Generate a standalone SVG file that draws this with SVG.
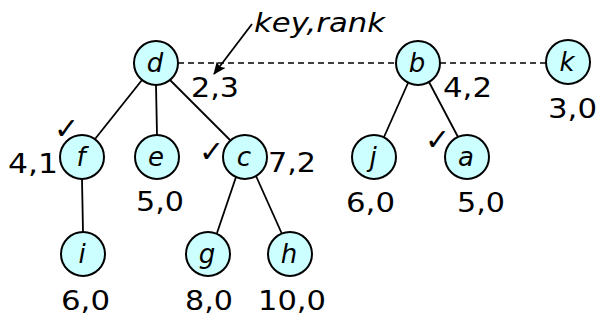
<svg xmlns="http://www.w3.org/2000/svg" width="600" height="320" viewBox="0 0 600 320">
<style>
.n{fill:#ccffff;stroke:#000;stroke-width:2}
.l{font-family:"DejaVu Sans",Verdana,sans-serif;font-style:italic;font-size:26px;text-anchor:middle;fill:#000}
.t{font-family:"DejaVu Sans",Verdana,sans-serif;font-size:27px;fill:#000}
.ck{font-family:"DejaVu Sans",sans-serif;font-size:30px;fill:#000}
.e{stroke:#000;stroke-width:1.8;fill:none}
.dash{stroke:#000;stroke-width:1.5;stroke-dasharray:6 4;fill:none}
</style>
<defs>
<marker id="ah" markerWidth="13" markerHeight="11" refX="12" refY="5.5" orient="auto" markerUnits="userSpaceOnUse">
<path d="M0,0 L13,5.5 L0,11 L3,5.5 Z" fill="#000"/>
</marker>
</defs>
<g id="connectors">
<line class="dash" x1="178" y1="63" x2="396" y2="63"/>
<line class="dash" x1="440" y1="63" x2="546" y2="63"/>
<line class="e" x1="142" y1="80" x2="95" y2="139"/>
<line class="e" x1="156" y1="85" x2="157" y2="135"/>
<line class="e" x1="170" y1="80" x2="230" y2="140"/>
<line class="e" x1="82" y1="179" x2="83" y2="232"/>
<line class="e" x1="236" y1="177" x2="217" y2="233"/>
<line class="e" x1="256" y1="176" x2="282" y2="234"/>
<line class="e" x1="408" y1="83" x2="384" y2="137"/>
<line class="e" x1="429" y1="82" x2="458" y2="137"/>
<line class="e" x1="252" y1="24" x2="214" y2="74" marker-end="url(#ah)"/>
</g>
<g id="node-d"><circle class="n" cx="156" cy="63" r="22"/><text class="l" x="155" y="72">d</text></g>
<g id="node-b"><circle class="n" cx="418" cy="63" r="22"/><text class="l" x="417" y="72">b</text></g>
<g id="node-k"><circle class="n" cx="568" cy="62" r="22"/><text class="l" x="567" y="71">k</text></g>
<g id="node-f"><circle class="n" cx="82" cy="157" r="22"/><text class="l" x="81" y="166">f</text></g>
<g id="node-e"><circle class="n" cx="157" cy="157" r="22"/><text class="l" x="156" y="166">e</text></g>
<g id="node-c"><circle class="n" cx="245" cy="157" r="22"/><text class="l" x="244" y="166">c</text></g>
<g id="node-j"><circle class="n" cx="374" cy="157" r="22"/><text class="l" x="373" y="166">j</text></g>
<g id="node-a"><circle class="n" cx="467" cy="157" r="22"/><text class="l" x="466" y="166">a</text></g>
<g id="node-i"><circle class="n" cx="83" cy="254" r="22"/><text class="l" x="82" y="263">i</text></g>
<g id="node-g"><circle class="n" cx="208" cy="254" r="22"/><text class="l" x="207" y="263">g</text></g>
<g id="node-h"><circle class="n" cx="290" cy="254" r="22"/><text class="l" x="289" y="263">h</text></g>
<g id="labels">
<text class="t" style="font-style:italic" x="254" y="32" textLength="131" lengthAdjust="spacingAndGlyphs">key,rank</text>
<text class="t" x="191" y="97" textLength="48" lengthAdjust="spacingAndGlyphs">2,3</text>
<text class="t" x="443" y="97" textLength="49" lengthAdjust="spacingAndGlyphs">4,2</text>
<text class="t" x="548" y="118" textLength="49" lengthAdjust="spacingAndGlyphs">3,0</text>
<text class="t" x="8" y="173" textLength="50" lengthAdjust="spacingAndGlyphs">4,1</text>
<text class="t" x="268" y="172" textLength="48" lengthAdjust="spacingAndGlyphs">7,2</text>
<text class="t" x="136" y="211" textLength="48" lengthAdjust="spacingAndGlyphs">5,0</text>
<text class="t" x="346" y="212" textLength="49" lengthAdjust="spacingAndGlyphs">6,0</text>
<text class="t" x="457" y="212" textLength="48" lengthAdjust="spacingAndGlyphs">5,0</text>
<text class="t" x="61" y="310" textLength="49" lengthAdjust="spacingAndGlyphs">6,0</text>
<text class="t" x="185" y="310" textLength="48" lengthAdjust="spacingAndGlyphs">8,0</text>
<text class="t" x="258" y="310" textLength="68" lengthAdjust="spacingAndGlyphs">10,0</text>
<text class="ck" x="54" y="139">✓</text>
<text class="ck" x="199" y="162">✓</text>
<text class="ck" x="425" y="150">✓</text>
</g>
</svg>
